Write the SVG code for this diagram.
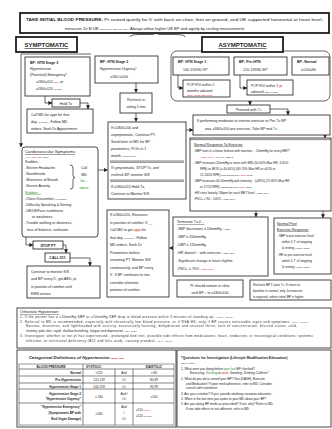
<svg xmlns="http://www.w3.org/2000/svg" width="332" height="429" viewBox="0 0 332 429">
<style>
text{font-family:"Liberation Sans",Arial,sans-serif;fill:#1e1e1e;font-size:3.6px}
.h{font-weight:bold}
.u{text-decoration:underline}
.i{font-style:italic}
.tn{font-size:2.2px}
.sm{font-size:3.1px}
.big{font-size:4.3px}
.lab{font-size:6px;font-weight:bold;text-decoration:underline}
.r{fill:#d01010}
.g{fill:#2a8a2a}
.mid{text-anchor:middle}
.end{text-anchor:end}
.n{fill:#fff;stroke:#333;stroke-width:0.9}
.k{fill:#fff;stroke:#111;stroke-width:1.7}
.c{fill:none;stroke:#222;stroke-width:0.7}
.a{marker-end:url(#ar)}
.gl{stroke:#333;stroke-width:0.6}
</style>
<defs>
<marker id="ar" viewBox="0 0 6 6" refX="5.5" refY="3" markerWidth="4" markerHeight="4" orient="auto" markerUnits="userSpaceOnUse">
<path d="M0,0 L6,3 L0,6 z" fill="#222"/>
</marker>
</defs>
<rect width="332" height="429" fill="#fff"/>

<g id="connectors">
<path class="c" d="M130 37 Q130 34.5 140 34.5 H152 Q155.5 34.5 156 32.5 Q156.5 34.5 160 34.5 H175 Q185 34.5 185 37"/>
<path class="c a" d="M91 54 H21 V147"/>
<rect class="c" x="171" y="51" width="159" height="50" rx="6"/>
<path class="c a" d="M250 101 V105"/>
<path class="c a" d="M45 96 V103 H52"/>
<path class="c a" d="M80 103 H88 V109"/>
<path class="c a" d="M136 83 V92.5"/>
<path class="c a" d="M136 113 V121.5"/>
<path class="c a" d="M98 170 H107.5"/>
<path class="c a" d="M26 237 V245 H33"/>
<path class="c a" d="M63 245 H66 V253"/>
<path class="c a" d="M70 258 H90 V266"/>
<path class="c a" d="M178 75 V88 H183"/>
<path class="c a" d="M240 75 V88 H247"/>
<path class="c a" d="M270 109 H288 V115"/>
<path class="c a" d="M186 130 H193"/>
<path class="c a" d="M325 135 V138"/>
<path class="c a" d="M256 211 V217"/>
<path class="c a" d="M323 211 V218"/>
<path class="c a" d="M173 248 H169.5"/>
</g>

<g id="header">
<rect class="k" x="20" y="13" width="309" height="20"/>
<text x="26" y="21" textLength="297" lengthAdjust="spacingAndGlyphs"><tspan class="h" font-size="4px">TAKE INITIAL  BLOOD PRESSURE:</tspan><tspan font-size="4.2px"> Pt seated quietly for 5' with back on chair, feet on ground, and UE supported horizontal at heart level,</tspan></text>
<text x="65" y="29.5"><tspan class="big">measure 2x B UE</tspan><tspan class="tn"> (rarely before: take dup early)</tspan><tspan font-size="4px">, Always utilize higher UE BP and signify by circling measurement.</tspan></text>
</g>

<g id="symptomatic">
<rect class="k" x="16" y="37" width="61" height="15"/>
<text class="lab mid" x="46.5" y="47">SYMPTOMATIC</text>
</g>
<g id="asymptomatic">
<rect class="k" x="202" y="37" width="81" height="15"/>
<text class="lab mid" x="242.5" y="47">ASYMPTOMATIC</text>
</g>

<g id="stage3">
<rect class="n" x="25" y="57" width="65" height="39"/>
<text x="30" y="63.5" class="h">BP: HTN Stage 3</text>
<text x="30" y="69.5">Hypertensive</text>
<text x="30" y="75.5">(Potential) Emergency*</text>
<text x="36" y="83">≥180/≥110 <tspan class="tn r">lower</tspan> or</text>
<text x="36" y="90">≥180/≥120 <tspan class="tn">(no s/sx)</tspan></text>
</g>

<g id="stage2">
<rect class="n" x="95" y="56" width="63" height="27"/>
<text x="100" y="63" class="h">BP: HTN Stage 2</text>
<text x="100" y="70">Hypertensive Urgency*</text>
<text x="110" y="77.5">≥160 /≥100</text>
</g>

<g id="holdtx">
<rect class="n" x="52" y="99" width="28" height="8"/>
<text class="mid" x="66" y="104.6">Hold Tx</text>
</g>

<g id="callmd">
<rect class="n" x="27" y="109" width="66" height="24"/>
<text x="31" y="115.5">Call MD for appt for that</text>
<text x="31" y="122.5">day <tspan class="tn">(or sooner)</tspan>. Follow MD</text>
<text x="31" y="129.5">orders. Seek Dr Appointment</text>
</g>

<g id="cardio">
<rect class="n" x="22" y="147" width="76" height="90" rx="3"/>
<text x="25" y="153" class="u big">Cardiovascular Symptoms</text>
<text x="25" y="157.5" class="tn r">(AHA, 2016) <tspan fill="#1e1e1e">(NIH, 2017)</tspan></text>
<text x="25" y="163">Sudden...</text>
<text x="25" y="169">-Severe Headache</text>
<text x="25" y="175">-Nosebleeds</text>
<text x="25" y="181">-Shortness of Breath</text>
<text x="25" y="187">-Severe Anxiety</text>
<path class="c" d="M70 165 Q73 165 73 168 V175 Q73 177.5 75 177.5 Q73 177.5 73 180 V187 Q73 189 70 189"/>
<text x="84" y="169" class="mid">Call</text>
<text x="84" y="175.5" class="mid">MD</text>
<text x="84" y="182" class="mid g">for...</text>
<text x="84" y="188.5" class="mid g sm">advice</text>
<text x="25" y="193.5" class="u g">Sudden...</text>
<text x="25" y="199.5">-Chest Discomfort <tspan class="tn">(or pressure)</tspan></text>
<text x="25" y="205.5">-Difficulty Speaking &amp; Seeing</text>
<text x="25" y="211.5">-UE/LE/Face numbness</text>
<text x="32" y="217.5">or weakness</text>
<text x="25" y="224">-Trouble walking or dizziness,</text>
<text x="27" y="230.5">loss of balance, confusion</text>
</g>

<g id="stoppt">
<rect class="n" x="33" y="241" width="30" height="8"/>
<text class="mid h" x="48" y="246.6">STOP PT</text>
</g>
<g id="call911">
<rect class="n" x="45" y="253" width="25" height="9"/>
<text class="mid h" x="57.5" y="259">CALL 911</text>
</g>
<g id="continue">
<rect class="n" x="27" y="266" width="73" height="32"/>
<text x="31" y="273">Continue to monitor S/S</text>
<text x="31" y="280">and BP every 5', get AED, pt</text>
<text x="31" y="287.5">in position of comfort until</text>
<text x="31" y="294.5">EMS arrives.</text>
</g>

<g id="recheck">
<rect class="n" x="120" y="93" width="32" height="20"/>
<text class="mid" x="136" y="101">Recheck in</text>
<text class="mid" x="136" y="108">sitting 5 min</text>
</g>

<g id="decision">
<rect class="n" x="108" y="122" width="78" height="77"/>
<text x="111" y="128.5">If ≤180/≤100 and</text>
<text x="111" y="135.5">asymptomatic, Continue PT,</text>
<text x="111" y="142.5">Send letter to MD for BP</text>
<text x="111" y="149.5">parameters, Pt f/u in 1</text>
<text x="111" y="156.5">month <tspan class="tn">(or as needed)</tspan></text>
<line class="gl" x1="110" y1="161" x2="184" y2="161"/>
<line class="gl" x1="110" y1="162.3" x2="184" y2="162.3"/>
<text x="111" y="168.5" class="i">If symptomatic, STOP Tx, and</text>
<text x="111" y="175.5" class="i">recheck BP, monitor S/S</text>
<line class="gl" x1="110" y1="180" x2="184" y2="180"/>
<line class="gl" x1="110" y1="181.3" x2="184" y2="181.3"/>
<text x="111" y="187.5">If ≥180/≥110 Hold Tx,</text>
<text x="111" y="194.5">Continue to Monitor S/S</text>
</g>

<g id="reassess">
<rect class="n" x="107" y="210" width="62" height="87"/>
<text x="110" y="216">If ≤180/≤110, Reassess</text>
<text x="110" y="223.5">in position of comfort. If <tspan class="g">__</tspan></text>
<text x="110" y="231">Call MD to get <tspan class="r">appt</tspan> for</text>
<text x="110" y="238.5">that day <tspan class="tn">(or sooner)</tspan>. Follow</text>
<text x="110" y="246">MD orders. Seek Dr</text>
<text x="110" y="253.5">Parameters before</text>
<text x="110" y="261">resuming PT.  Monitor S/S</text>
<text x="110" y="268.5">continuously, and BP every</text>
<text x="110" y="276">5'. If BP continues to rise,</text>
<text x="110" y="283.5">consider alternate</text>
<text x="110" y="291">position of comfort.</text>
</g>

<g id="stage1">
<rect class="n" x="173" y="57" width="56" height="18"/>
<text x="178" y="63" class="h">BP: HTN Stage 1</text>
<text x="183" y="71">140-159/90-99*</text>
</g>
<g id="prehtn">
<rect class="n" x="234" y="57" width="53" height="18"/>
<text x="239" y="63" class="h">BP: Pre-HTN</text>
<text x="243" y="71">120-139/80-89*</text>
</g>
<g id="normal">
<rect class="n" x="292" y="57" width="37" height="18"/>
<text x="297" y="63" class="h">BP: Normal</text>
<text x="301" y="71">≤120/≤80</text>
</g>

<g id="pcp2">
<rect class="n" x="183" y="80" width="47" height="17"/>
<text x="187" y="86">PCP F/U within 2</text>
<text x="187" y="91.5">months advised</text>
<text x="187" y="95.5" class="tn r">(JNC 7, 2003; CDC, 2016)</text>
</g>
<g id="pcp1">
<rect class="n" x="247" y="80" width="46" height="15"/>
<text x="251" y="86.5">PCP F/U within 1 <tspan class="r">yr</tspan></text>
<text x="251" y="92.5">advised <tspan class="tn">(JNC 7, 2003)</tspan></text>
</g>

<g id="proceed">
<rect class="n" x="227" y="105" width="43" height="8"/>
<text class="mid" x="248.5" y="110.7">Proceed with <tspan class="g">Tx</tspan></text>
</g>

<g id="midtx">
<rect class="n" x="193" y="115" width="137" height="20"/>
<text x="197" y="122">If performing moderate to intense exercise or Pre-Tx BP</text>
<text x="205" y="129.5">was ≥180/≥100 pre-exercise, Take BP mid <tspan class="g">Tx</tspan>.</text>
</g>

<g id="normalresponse">
<rect class="n" x="190" y="138" width="141" height="73"/>
<line class="gl" x1="190" y1="139.6" x2="331" y2="139.6"/>
<text x="194" y="145.5" class="u">Normal Response To Exercise<tspan class="g">:</tspan></text>
<text x="194" y="151.5" class="sm">-SBP rises in a linear fashion with exertion, ↑ 10mmHg for every MET*</text>
<text x="200" y="157.5" class="tn"><tspan class="r">(ACSM, 2014)</tspan> ↑ at 4.5 in ↑ DBP at</text>
<text x="194" y="163.5" class="sm">-SBP increases 20mmHg or more with MIN (50-60% Max HR, 3-6/10</text>
<text x="200" y="169.5" class="sm">RPE) to MOD (≥ 40-60%) (60-70% Max HR or ≥6/10 or</text>
<text x="200" y="175.5" class="sm">12-16/20 RPE) <tspan class="tn">(Sith Bonifazi and <tspan class="r">Fontes</tspan>, 2012)</tspan></text>
<text x="194" y="181.5" class="sm">-SBP increases 40-50mmHg with intensity ↑ (≥85%) (70-85% Max HR</text>
<text x="200" y="187.5" class="sm">or 17/20 RPE) <tspan class="tn">(Sith Bonifazi and <tspan class="r">Fontes</tspan>, 2012)</tspan></text>
<text x="194" y="193.5" class="sm">-HR rises linearly 10bpm for each MET level <tspan class="tn">(ACSM, 2014)</tspan></text>
<text x="194" y="199.5" class="sm">-PSO<tspan class="tn">2</tspan> ≥ 90 ≈ 100% <tspan class="tn">(ACSM, 2014)</tspan></text>
</g>

<g id="terminate">
<rect class="n" x="173" y="217" width="95" height="59"/>
<text x="177" y="223" class="u">Terminate Tx if...:</text>
<text x="177" y="230">-SBP decreases ≥ 10mmHg <tspan class="tn">(ACSM)</tspan></text>
<text x="177" y="238">-SBP ≥ 250mmHg</text>
<text x="177" y="246">-DBP ≥ 115mmHg</text>
<text x="177" y="254">-HR doesn't ↑ with exercise <tspan class="tn">(ACSM, 2014)</tspan></text>
<text x="177" y="262">-Significant change in heart rhythm</text>
<text x="177" y="270">-PSO<tspan class="tn">2</tspan>: ≤ 70% <tspan class="tn r">(ACSM, 2014)</tspan></text>
</g>

<g id="postexercise">
<rect class="n" x="274" y="218" width="57" height="56"/>
<text x="277" y="224.5" class="u">Normal Post</text>
<text x="277" y="230.5" class="u">Exercise Response:</text>
<text x="277" y="237" class="sm">- SBP to pre-exercise level</text>
<text x="282" y="243" class="sm">within 5-7' of stopping</text>
<text x="282" y="249" class="sm">&amp; resting <tspan class="tn">(Hauser, 2015)</tspan></text>
<text x="277" y="256" class="sm">- HR to pre-exercise level</text>
<text x="282" y="262" class="sm">within 5-7' of stopping</text>
<text x="282" y="268" class="sm">&amp; resting <tspan class="tn">(Hauser, 2015)</tspan></text>
</g>

<g id="remain">
<rect class="n" x="177" y="280" width="66" height="17"/>
<text class="mid" x="210" y="287">Pt should remain in clinic</text>
<text class="mid" x="210" y="294">until BP ↓ to ≤180/≤100</text>
</g>

<g id="recheckpost">
<rect class="n" x="250" y="280" width="81" height="20"/>
<text x="253" y="286" class="sm">Recheck BP 5' post <tspan class="g">Tx</tspan>. If return to</text>
<text x="253" y="292" class="sm">baseline is normal, only 1x measure</text>
<text x="253" y="298" class="sm">is required, unless initial BP is higher</text>
</g>

<g id="orthostatic">
<rect class="n" x="17" y="308" width="314" height="40"/>
<text x="20" y="313" class="u">Orthostatic Hypotension:</text>
<text x="20" y="317.8" class="sm" textLength="213" lengthAdjust="spacing">1. If the patient has a ≥20mmHg SBP or ≥10mmHg DBP drop in blood pressure within 3 minutes of standing up. <tspan class="tn">(Mayo, 2016)</tspan></text>
<text x="20" y="322.5" class="sm" textLength="288" lengthAdjust="spacing">2. Referral to MD is recommended, especially with chronically low blood pressure, or if RSA-HS, only if BP causes noticeable signs and symptoms: <tspan class="tn">(NIH, 2017)</tspan></text>
<text x="26" y="327" class="sm" textLength="271" lengthAdjust="spacing">Nausea, dizziness, and lightheaded with activity, excessively fainting, dehydration and unusual thirst, lack of concentration, blurred vision, cold,</text>
<text x="26" y="331.5" class="sm" textLength="111" lengthAdjust="spacing">clammy, pale skin, rapid, shallow breathing, fatigue and depression. <tspan class="tn">(NIH, 2017)</tspan></text>
<text x="20" y="337" class="sm" textLength="293" lengthAdjust="spacing">3. Investigate: whether or not pt has experienced - prolonged bed rest, possible side effects from medications, heart, endocrine, or neurological conditions, systemic</text>
<text x="26" y="341.5" class="sm" textLength="147" lengthAdjust="spacing">infection, or nutritional deficiency (B12 and folic acid), causing prandial. <tspan class="tn">(NIH, 2017)</tspan></text>
</g>

<g id="table">
<rect class="n" x="17" y="350" width="159" height="77"/>
<rect fill="none" stroke="#333" stroke-width="0.5" x="19" y="364" width="155" height="61"/>
<text x="29" y="359" class="h i big">Categorical  Definitions  of  Hypertension <tspan class="tn r">(Mayo, 2016)</tspan></text>
<g class="gl">
<line x1="19" y1="369" x2="174" y2="369"/>
<line x1="19" y1="376" x2="174" y2="376"/>
<line x1="19" y1="383" x2="174" y2="383"/>
<line x1="19" y1="389" x2="174" y2="389"/>
<line x1="19" y1="403" x2="174" y2="403"/>
<line x1="83" y1="364" x2="83" y2="425"/>
<line x1="115" y1="369" x2="115" y2="425"/>
<line x1="133" y1="369" x2="133" y2="425"/>
</g>
<text class="mid h sm" x="51" y="367.8">BLOOD PRESSURE</text>
<text class="h sm" x="86" y="367.8">SYSTOLIC</text>
<text class="mid h sm" x="154" y="367.8">DIASTOLIC</text>
<text class="end h sm" x="81" y="374">Normal</text>
<text class="mid sm" x="99" y="374">&lt;120</text>
<text class="mid sm" x="124" y="374">And</text>
<text class="mid sm" x="154" y="374">&lt; 80</text>
<text class="end h sm" x="81" y="381">Pre-Hypertension</text>
<text class="mid sm" x="99" y="381">120-139</text>
<text class="mid sm" x="124" y="381">Or</text>
<text class="mid sm" x="154" y="381">80-89</text>
<text class="end h sm" x="81" y="387.5">Hypertension Stage 1</text>
<text class="mid sm" x="99" y="387.5">140-159</text>
<text class="mid sm" x="124" y="387.5">Or</text>
<text class="mid sm" x="154" y="387.5">90-99</text>
<text class="end h sm" x="81" y="394.5">Hypertension Stage 2</text>
<text class="end h sm" x="81" y="400">"Hypertensive Urgency"</text>
<text class="mid sm" x="99" y="397.5">≥ 160</text>
<text class="mid sm" x="124" y="394.5">And /</text>
<text class="mid sm" x="124" y="400">Or</text>
<text class="mid sm" x="154" y="397.5">≥100</text>
<text class="end h sm" x="81" y="408">"Hypertensive Emergency"</text>
<text class="end h sm" x="81" y="414">(Symptomatic BP with</text>
<text class="end h sm" x="81" y="420">End Organ Damage)</text>
<text class="mid sm" x="99" y="414.5">≥180</text>
<text class="mid sm" x="124" y="408">And</text>
<text class="mid sm" x="124" y="414">/</text>
<text class="mid sm" x="124" y="420">Or</text>
<text class="sm" x="136" y="411">≥110 <tspan class="tn r">(lower)</tspan></text>
<text class="sm" x="136" y="417">≥120 <tspan class="tn">(no s/sx)</tspan></text>
</g>

<g id="questions">
<rect class="n" x="177" y="350" width="154" height="77"/>
<text x="181" y="358.5" class="h">*Questions for Investigation (Lifestyle Modification Education)</text>
<text x="181" y="363.5" class="tn">(JNC 7, 2003)</text>
<text x="181" y="369.5" class="sm">1. What were you doing before <tspan class="g">your last</tspan> BP checked?</text>
<text x="190" y="374" class="sm i">Exercising, <tspan class="g">Rushing</tspan> to <tspan class="r">work</tspan>, Smoking, Drinking Caffeine*</text>
<text x="181" y="380" class="sm">2. What do you do to control your BP? Diet (DASH), Exercise,</text>
<text x="186" y="384.5" class="sm">and Medication? If poor med adherence, refer to MD. Consider</text>
<text x="186" y="389" class="sm">consult with nutritionist.</text>
<text x="181" y="395" class="sm">3. Are you a smoker? If yes, provide smoking cessation education.</text>
<text x="181" y="400" class="sm">4. When is the last time you spoke to your MD about your BP?</text>
<text x="181" y="405" class="sm">5. Are you taking BP meds as prescribed? If not, why? Refer to MD.</text>
<text x="186" y="409.5" class="sm">If see side effects or not adherent, refer to MD</text>
</g>
</svg>
